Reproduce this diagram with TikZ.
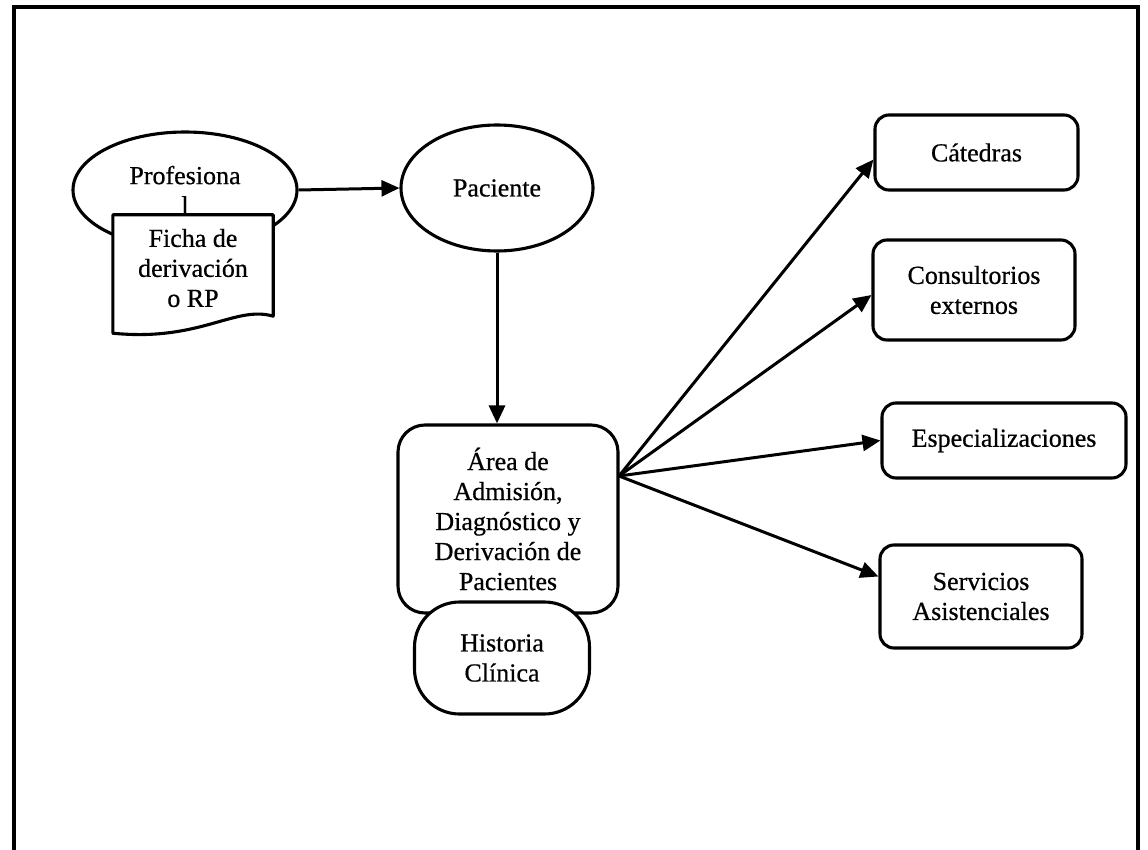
\documentclass[tikz,border=0pt]{standalone}
\usepackage{fontspec}
\setmainfont{Liberation Serif}[FakeBold=0.6]
\usetikzlibrary{shapes.geometric,arrows.meta,calc}
\begin{document}
\begin{tikzpicture}[x=1pt,y=-1pt,
  every node/.style={font=\fontsize{26}{30}\selectfont, align=center, inner sep=0pt},
  shp/.style={draw, line width=3.1pt, fill=white},
  oval/.style={shp, ellipse},
  rbox/.style={shp, rectangle, rounded corners=14pt},
  conn/.style={line width=3pt, -{Triangle[length=18pt,width=16pt]}}]
\useasboundingbox (0,0) rectangle (1148,850);
% frame (bottom edge lies outside the picture)
\draw[line width=3.4pt] (14,850) -- (14,7) -- (1138,7) -- (1138,850);

% Profesional + document
\node[oval, minimum width=224pt, minimum height=116pt] (prof) at (185,190) {Profesiona\\l};
\node[minimum width=160pt, minimum height=106pt] (doc) at (193,268) {};
\draw[shp, line join=round] (doc.north west) -- (doc.north east) -- ([yshift=5pt]doc.south east)
  .. controls (235,305) and (200,342) .. ([yshift=-12pt]doc.south west) -- cycle;
\node at (doc.center) {Ficha de\\derivación\\o RP};

% Paciente
\node[oval, minimum width=192pt, minimum height=126pt] (pac) at (497,188) {Paciente};

% Area
\node[shp, rectangle, rounded corners=27pt, minimum width=220pt, minimum height=188pt] (area) at (508,519)
  {Área de\\Admisión,\\Diagnóstico y\\Derivación de\\Pacientes};
\node[shp, rectangle, rounded corners=45pt, minimum width=175pt, minimum height=112pt] (hist) at (502,658)
  {Historia\\Clínica};

% right boxes
\node[rbox, minimum width=203pt, minimum height=75pt] (cat) at (976.5,152.5) {Cátedras};
\node[rbox, minimum width=202pt, minimum height=100pt] (con) at (974,290) {Consultorios\\externos};
\node[rbox, minimum width=244pt, minimum height=75pt] (esp) at (1004,440.5) {Especializaciones};
\node[rbox, minimum width=202pt, minimum height=103pt] (ser) at (981,596.5) {Servicios\\Asistenciales};

% connectors
\draw[conn] (prof.east) -- (pac.west);
\draw[conn] (pac.south) -- (pac.south |- area.north);
\coordinate (src) at (619,476);
\draw[conn] (src) -- ([yshift=-7pt]cat.west);
\draw[conn] (src) -- ([yshift=-5pt]con.west);
\draw[conn] (src) -- (esp.west);
\draw[conn] (src) -- ([yshift=20pt]ser.west);
\end{tikzpicture}
\end{document}
